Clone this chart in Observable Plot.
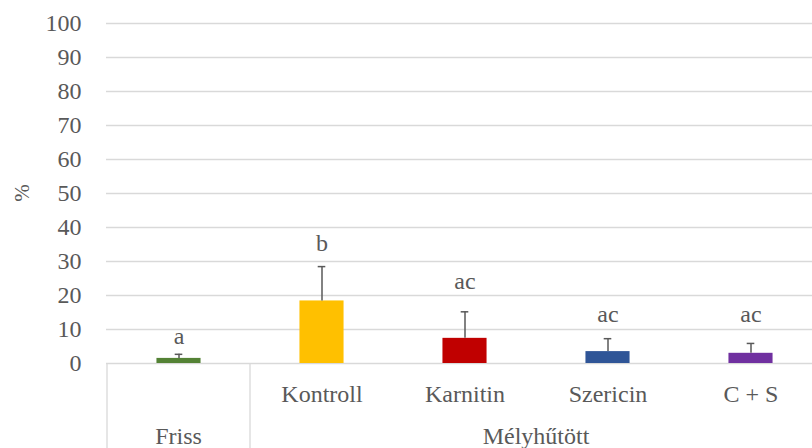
<!DOCTYPE html>
<html><head><meta charset="utf-8">
<script src="https://cdn.jsdelivr.net/npm/d3@7"></script>
<script src="https://cdn.jsdelivr.net/npm/@observablehq/plot@0.6"></script>
<style>body{margin:0;background:#fff;overflow:hidden}</style>
</head><body><div id="chart"></div>
<script>
const categories = ["Friss", "Kontroll", "Karnitin", "Szericin", "C + S"];
const subLabels = ["", "Kontroll", "Karnitin", "Szericin", "C + S"];
const groups = ["Friss", "Mélyhűtött"];
const groupMembers = [["Friss"], ["Kontroll", "Karnitin", "Szericin", "C + S"]];
const values = [1.5, 18.4, 7.4, 3.5, 3.0];
const errorTops = [2.7, 28.5, 15.2, 7.3, 5.9];
const letters = ["a", "b", "ac", "ac", "ac"];
const letterY = [8.1, 35.4, 24.3, 14.5, 14.5];
const colors = ["#548235", "#FFC000", "#C00000", "#2F5597", "#7030A0"];
const yTicks = [0, 10, 20, 30, 40, 50, 60, 70, 80, 90, 100];
const yLabel = "%";

const data = categories.map((c, i) => ({
  cat: c, value: values[i], err: errorTops[i], letter: letters[i], ly: letterY[i], color: colors[i]
}));

const FONT = "Liberation Serif";
const TEXT = "#595959";
const bandStep = (823 - 106) / categories.length;
const barW = 44.5, capW = 8;

const plot = Plot.plot({
  width: 812, height: 448,
  marginLeft: 106, marginRight: 0, marginTop: 23, marginBottom: 85,
  style: {fontFamily: FONT, fontSize: "24px", color: TEXT, background: "#fff"},
  x: {type: "band", domain: categories, range: [106, 823], padding: 0},
  y: {domain: [0, 100]},
  color: {type: "identity"},
  marks: [
    Plot.ruleY(yTicks, {stroke: "#d9d9d9", strokeWidth: 1.3}),
    Plot.barY(data, {x: "cat", y: "value", fill: d => d.color, insetLeft: (bandStep - barW) / 2, insetRight: (bandStep - barW) / 2}),
    Plot.ruleX(data, {x: "cat", y1: "value", y2: "err", stroke: "#595959", strokeWidth: 1.5}),
    Plot.tickY(data, {x: "cat", y: "err", stroke: "#595959", strokeWidth: 1.5, insetLeft: (bandStep - capW) / 2, insetRight: (bandStep - capW) / 2}),
    Plot.text(data, {x: "cat", y: "ly", text: "letter", fill: TEXT, fontSize: 24, fontFamily: FONT}),
    Plot.axisY({ticks: yTicks, tickSize: 0, tickPadding: 25, label: null, fill: TEXT, fontFamily: FONT}),
    Plot.axisX({tickSize: 0, tickPadding: 21, label: null, fill: TEXT, fontFamily: FONT, tickFormat: d => subLabels[categories.indexOf(d)]})
  ]
});

document.getElementById("chart").appendChild(plot);

// Multi-level category table and axis title, positioned with the plot's own scales
const xs = plot.scale("x");
const bw = xs.bandwidth;
const svg = d3.select(plot);
const y0 = plot.scale("y").apply(0);
const sepX = [xs.apply(groupMembers[0][0]), xs.apply(groupMembers[1][0]), xs.apply(categories[categories.length - 1]) + bw];
const g = svg.append("g");
g.selectAll("line").data(sepX).join("line")
  .attr("x1", d => d).attr("x2", d => d).attr("y1", y0).attr("y2", 448)
  .attr("stroke", "#d9d9d9").attr("stroke-width", 1.3);
g.selectAll("text").data(groups).join("text")
  .attr("x", (d, i) => (xs.apply(groupMembers[i][0]) + xs.apply(groupMembers[i][groupMembers[i].length - 1]) + bw) / 2)
  .attr("y", 444)
  .attr("text-anchor", "middle")
  .attr("fill", TEXT).attr("font-size", 24)
  .text(d => d);
svg.append("text")
  .attr("transform", `translate(29,${(y0 + plot.scale("y").apply(100)) / 2}) rotate(-90)`)
  .attr("text-anchor", "middle")
  .attr("fill", TEXT).attr("font-size", 21)
  .text(yLabel);
svg.attr("font-family", FONT).style("font-family", FONT);
svg.selectAll("[font-family]").attr("font-family", FONT);
svg.selectAll("g").style("font-family", FONT);
svg.selectAll("text").attr("font-family", FONT).style("font-family", FONT);
</script>
</body></html>
